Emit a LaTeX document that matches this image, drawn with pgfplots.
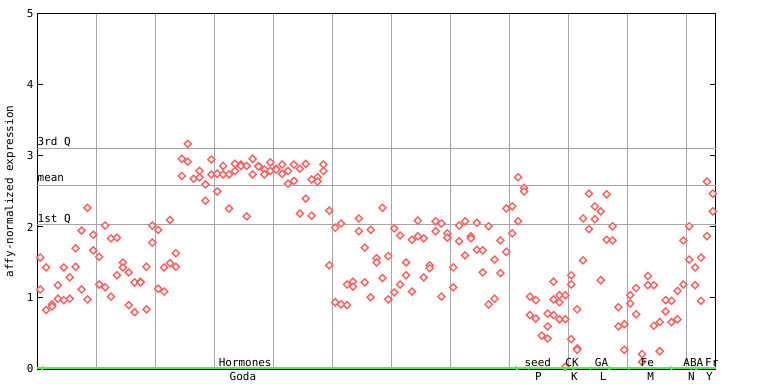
\documentclass[border=0pt]{standalone}
\usepackage{pgfplots}
\pgfplotsset{compat=1.18}
\usepackage{pgfplotstable}
\usepackage{fontspec}
\setmainfont{DejaVu Sans Mono}
\usetikzlibrary{arrows.meta}
\definecolor{pt}{RGB}{255,95,95}
\definecolor{gridg}{RGB}{165,165,165}
\definecolor{gline}{RGB}{80,240,80}

\pgfplotstableread{
c v
0 1.57
0 1.12
1 1.43
1 0.83
2 0.91
2 0.88
3 1.18
3 0.99
4 1.43
4 0.97
5 1.29
5 0.99
6 1.70
6 1.44
7 1.95
7 1.12
8 2.27
8 0.98
9 1.89
9 1.67
10 1.58
10 1.19
11 2.02
11 1.15
12 1.84
12 1.02
13 1.85
13 1.32
14 1.50
14 1.43
15 1.36
15 0.90
16 1.22
16 0.80
17 1.23
17 1.22
18 1.44
18 0.84
19 2.02
19 1.78
20 1.96
20 1.13
21 1.43
21 1.09
22 2.10
22 1.49
23 1.63
23 1.44
24 2.96
24 2.72
25 3.17
25 2.92
26 2.68
27 2.79
27 2.70
28 2.60
28 2.37
29 2.95
29 2.74
30 2.75
30 2.50
31 2.86
31 2.74
32 2.74
32 2.26
33 2.89
33 2.79
34 2.88
34 2.86
35 2.86
35 2.15
36 2.96
36 2.74
37 2.86
37 2.85
38 2.81
38 2.74
39 2.91
39 2.79
40 2.82
40 2.81
41 2.88
41 2.75
42 2.79
42 2.61
43 2.88
43 2.65
44 2.82
44 2.19
45 2.89
45 2.40
46 2.67
46 2.16
47 2.70
47 2.64
48 2.88
48 2.79
49 2.23
49 1.46
50 1.99
50 0.94
51 2.05
51 0.91
52 1.19
52 0.90
53 1.23
53 1.16
54 2.12
54 1.94
55 1.71
55 1.22
56 1.96
56 1.01
57 1.56
57 1.50
58 2.27
58 1.28
59 1.59
59 0.98
60 1.98
60 1.08
61 1.88
61 1.19
62 1.50
62 1.32
63 1.82
63 1.09
64 2.09
64 1.87
65 1.84
65 1.29
66 1.46
66 1.42
67 2.08
67 1.94
68 2.05
68 1.02
69 1.91
69 1.85
70 1.43
70 1.15
71 2.02
71 1.80
72 2.08
72 1.60
73 1.87
73 1.84
74 2.06
74 1.68
75 1.67
75 1.36
76 2.01
76 0.91
77 1.54
77 0.99
78 1.81
78 1.35
79 2.26
79 1.65
80 2.29
80 1.91
81 2.70
81 2.08
82 2.55
82 2.50
83 1.02
83 0.76
84 0.97
84 0.71
85 0.47
86 0.78
86 0.60
86 0.43
87 1.23
87 0.98
87 0.76
88 1.04
88 0.94
88 0.70
89 1.04
89 0.70
89 0.03
90 1.32
90 1.19
90 0.42
91 0.84
91 0.29
91 0.27
92 2.12
92 1.53
93 2.47
93 1.97
94 2.29
94 2.11
95 2.22
95 1.25
96 2.46
96 1.82
97 2.01
97 1.81
98 0.87
98 0.60
99 0.63
99 0.27
100 1.04
100 0.92
101 1.14
101 0.77
102 0.21
102 0.10
103 1.31
103 1.18
104 1.18
104 0.61
105 0.66
105 0.25
106 0.97
106 0.81
107 0.96
107 0.66
108 1.10
108 0.70
109 1.81
109 1.19
110 2.01
110 1.54
111 1.43
111 1.18
112 1.57
112 0.96
113 2.64
113 1.87
114 2.47
114 2.22
}\expdata

\begin{document}
\begin{tikzpicture}[font=\fontsize{11}{13}\selectfont]
\path[use as bounding box] (0,0) rectangle (768bp,384bp);
\fill[white] (0,0) rectangle (768bp,384bp);
\begin{axis}[
  at={(37bp,15bp)}, anchor=south west, scale only axis,
  width=678.5bp, height=355bp,
  xmin=0, xmax=115, ymin=0, ymax=5,
  xtick={10,20,...,110}, xticklabels={},
  xmajorgrids=true,
  xtick style={draw=none},
  extra x ticks={34.9,84.97,91.07,95.98,104.0,110.9,113.95},
  extra x tick labels={Goda,P,K,L,M,N,Y},
  extra x tick style={grid=none, major tick length=0pt},
  ytick={0,1,2,3,4,5},
  major tick length=6bp,
  tick align=inside,
  ytick style={black, line width=1bp},
  yticklabel pos=left,
  extra y ticks={2.039,2.588,3.104},
  extra y tick labels={},
  extra y tick style={grid=major, major tick length=0pt},
  grid style={gridg, line width=1bp},
  axis line style={black, line width=1bp},
  /pgf/number format/assume math mode=true,
  tick label style={font=\fontsize{11}{13}\selectfont},
  ylabel={affy-normalized expression},
  ylabel style={at={(axis description cs:-0.0398,0.5)}, anchor=center},
  clip=false,
]
\addplot[only marks, mark=square*, mark size=2.5bp,
  mark options={rotate=45, draw=pt, fill=white, line width=1.4bp}]
  table[x expr=\thisrow{c}+0.55, y=v] {\expdata};
\end{axis}

% quartile labels (image pixel positions, 1px = 1bp)
\node[anchor=base west, inner sep=0pt] at (37.5bp,238.3bp) {3rd Q};
\node[anchor=base west, inner sep=0pt] at (37.5bp,202.3bp) {mean};
\node[anchor=base west, inner sep=0pt] at (37.5bp,161bp) {1st Q};

% green group line with arrow heads
\draw[gline, line width=1.6bp] (37bp,15.8bp) -- (715.5bp,15.8bp);
\draw[gline, line width=1.2bp, -{Stealth[length=6bp,width=5bp]}] (50bp,15.8bp) -- (38bp,15.8bp);
\draw[gline, line width=1.2bp, -{Stealth[length=6bp,width=5bp]}] (510bp,15.8bp) -- (521bp,15.8bp);
\draw[gline, line width=1.2bp, -{Stealth[length=6bp,width=5bp]}] (568bp,15.8bp) -- (577.5bp,15.8bp);
\draw[gline, line width=1.2bp, -{Stealth[length=6bp,width=5bp]}] (604bp,15.8bp) -- (613.5bp,15.8bp);
\draw[gline, line width=1.2bp, -{Stealth[length=6bp,width=5bp]}] (666bp,15.8bp) -- (675.5bp,15.8bp);
\draw[gline, line width=1.2bp, -{Stealth[length=6bp,width=5bp]}] (693bp,15.8bp) -- (700.5bp,15.8bp);
\draw[gline, line width=1.2bp, -{Stealth[length=4bp,width=4bp]}] (535bp,15.8bp) -- (526bp,15.8bp);
\draw[gline, line width=1.2bp, -{Stealth[length=4bp,width=4bp]}] (597.5bp,15.8bp) -- (587.5bp,15.8bp);
\draw[gline, line width=1.2bp, -{Stealth[length=4bp,width=4bp]}] (636bp,15.8bp) -- (626bp,15.8bp);
\draw[gline, line width=1.2bp, -{Stealth[length=4bp,width=4bp]}] (698bp,15.8bp) -- (688bp,15.8bp);

% group labels above the line
\node[anchor=base, inner sep=0pt] at (245.2bp,18bp) {Hormones};
\node[anchor=base, inner sep=0pt] at (537.8bp,18bp) {seed};
\node[anchor=base, inner sep=0pt] at (572bp,18bp) {CK};
\node[anchor=base, inner sep=0pt] at (601.5bp,18bp) {GA};
\node[anchor=base, inner sep=0pt] at (647.3bp,18bp) {Fe};
\node[anchor=base, inner sep=0pt] at (693.3bp,18bp) {ABA};
\node[anchor=base west, inner sep=0pt] at (705bp,18bp) {Fr};
\end{tikzpicture}
\end{document}
